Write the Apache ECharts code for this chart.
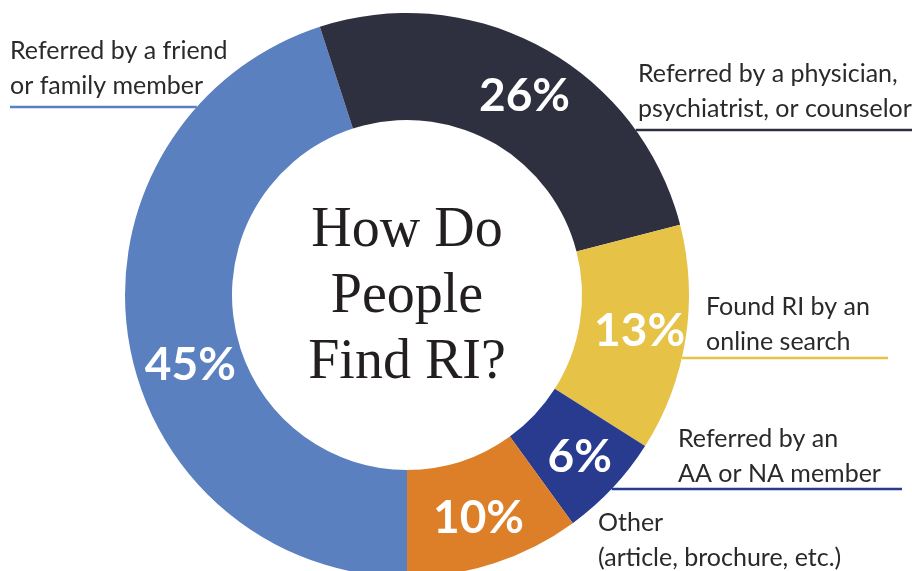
<!DOCTYPE html>
<html>
<head>
<meta charset="utf-8">
<title>How Do People Find RI?</title>
<script src="https://cdn.jsdelivr.net/npm/echarts@6/dist/echarts.min.js"></script>
<style>
    html, body { margin: 0; padding: 0; background: #fff; }
    #main { width: 912px; height: 571px; }
</style>
</head>
<body>
<div id="main"></div>
<script>
// data
var categories = [
    'Referred by a friend\nor family member',
    'Referred by a physician,\npsychiatrist, or counselor',
    'Found RI by an\nonline search',
    'Referred by an\nAA or NA member',
    'Other\n(article, brochure, etc.)'
];
var shares = [45, 26, 13, 6, 10];
var colors = ['#5A80BF', '#2E303F', '#E6C246', '#283B8F', '#DC7F28'];

// layout (not data)
var CX = 407, CY = 295, R_IN = 175, R_OUT = 282;
// outside labels: text x, text top, underline y, underline far end (null = no line)
var outLabels = [
    {x: 10, y: 33, lineY: 107, lineEnd: 10, align: 'left'},
    {x: 638, y: 56, lineY: 130, lineEnd: 912, align: 'left'},
    {x: 706, y: 289, lineY: 358, lineEnd: 888, align: 'left'},
    {x: 678, y: 421, lineY: 489, lineEnd: 902, align: 'left'},
    {x: 598, y: 505, lineY: null, lineEnd: null, align: 'left'}
];
var pctOffsets = [[12, 34], [6, 4], [4, 0], [4, 4], [0, 3]];

var myChart = echarts.init(document.getElementById('main'));

function edgeX(y, side) {
    var dy = y - CY;
    var dx = Math.sqrt(Math.max(R_OUT * R_OUT - dy * dy, 0));
    return side < 0 ? CX - dx : CX + dx;
}

var mainData = shares.map(function (v, i) {
    return {
        name: categories[i],
        value: v,
        itemStyle: {color: colors[i]},
        labelLine: {
            show: outLabels[i].lineY !== null,
            lineStyle: {color: colors[i], width: 2.5}
        }
    };
});

var pctData = shares.map(function (v, i) {
    return {
        name: categories[i],
        value: v,
        label: {offset: pctOffsets[i]}
    };
});

var option = {
    animation: false,
    graphic: [{
        type: 'text',
        x: CX,
        y: CY + 2,
        style: {
            text: 'How Do\nPeople\nFind RI?',
            font: '56px "Liberation Serif", "DejaVu Serif", serif',
            lineHeight: 66,
            fill: '#231F20',
            align: 'center',
            verticalAlign: 'middle'
        },
        z: 10
    }],
    series: [{
        // coloured ring with the outside labels
        type: 'pie',
        center: [CX, CY],
        radius: [R_IN, R_OUT],
        startAngle: -90,
        clockwise: true,
        avoidLabelOverlap: false,
        silent: true,
        data: mainData,
        label: {
            show: true,
            position: 'outside',
            formatter: '{b}',
            color: '#2A2A2A',
            fontFamily: 'Lato',
            fontSize: 25,
            lineHeight: 35
        },
        labelLine: {show: true},
        labelLayout: function (params) {
            var o = outLabels[params.dataIndex];
            var res = {
                x: o.x,
                y: o.y,
                align: o.align,
                verticalAlign: 'top'
            };
            if (o.lineY !== null) {
                var side = o.lineEnd < CX ? -1 : 1;
                var sx = edgeX(o.lineY, side);
                res.labelLinePoints = [[sx, o.lineY], [sx, o.lineY], [o.lineEnd, o.lineY]];
            }
            return res;
        }
    }, {
        // transparent copy for the percentage labels inside the ring
        type: 'pie',
        center: [CX, CY],
        radius: [R_IN, R_OUT],
        startAngle: -90,
        clockwise: true,
        silent: true,
        itemStyle: {color: 'rgba(0,0,0,0)'},
        data: pctData,
        label: {
            show: true,
            position: 'inside',
            formatter: '{c}%',
            color: '#FFFFFF',
            fontFamily: 'Lato',
            fontWeight: 'bold',
            fontSize: 46
        },
        labelLine: {show: false}
    }]
};

myChart.setOption(option);
</script>
</body>
</html>
